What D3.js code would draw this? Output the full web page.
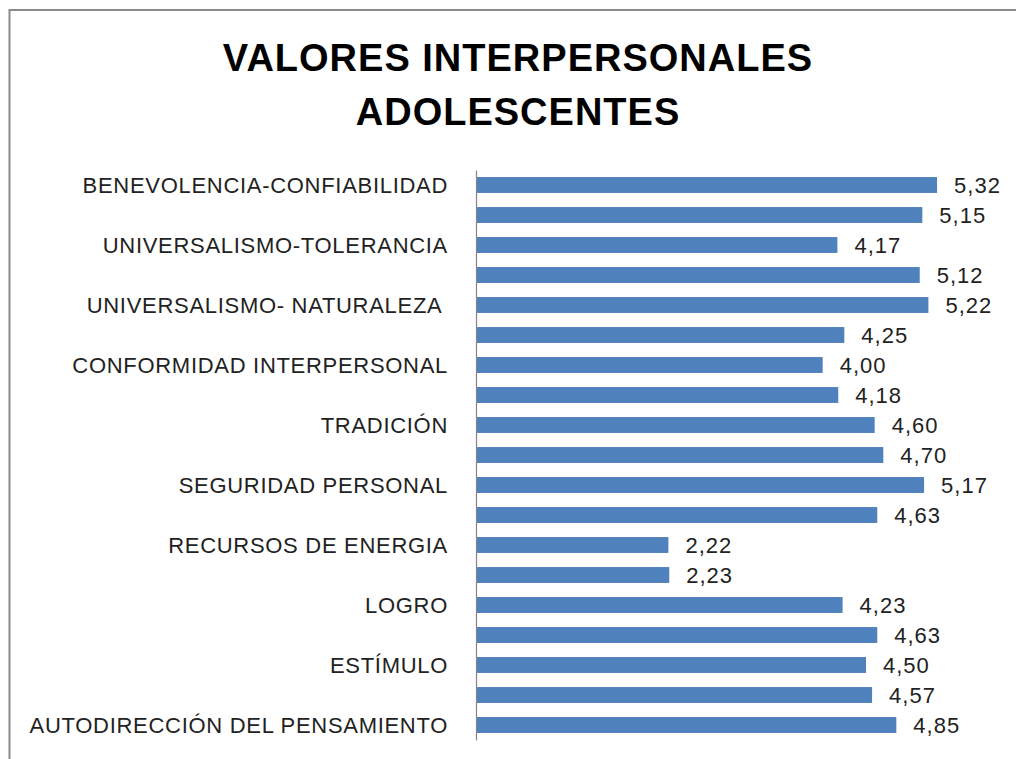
<!DOCTYPE html>
<html>
<head>
<meta charset="utf-8">
<script src="https://cdn.jsdelivr.net/npm/d3@7"></script>
<style>
  html, body { margin: 0; padding: 0; background: #fff; }
  svg { display: block; }
</style>
</head>
<body>
<svg id="chart" width="1016" height="759"></svg>
<script>
// Categories, top to bottom (every other label is hidden in the original chart)
const categories = [
  "BENEVOLENCIA-CONFIABILIDAD",
  "BENEVOLENCIA-CUIDADO",
  "UNIVERSALISMO-TOLERANCIA",
  "UNIVERSALISMO-PREOCUPACIÓN",
  "UNIVERSALISMO- NATURALEZA ",
  "HUMILDAD",
  "CONFORMIDAD INTERPERSONAL",
  "CONFORMIDAD CON LAS NORMAS",
  "TRADICIÓN",
  "SEGURIDAD SOCIAL",
  "SEGURIDAD PERSONAL",
  "IMAGEN PÚBLICA",
  "RECURSOS DE ENERGIA",
  "PODER-DOMINANCIA",
  "LOGRO",
  "HEDONISMO",
  "ESTÍMULO",
  "AUTODIRECCIÓN DE LA ACCIÓN",
  "AUTODIRECCIÓN DEL PENSAMIENTO"
];
const values = [5.32, 5.15, 4.17, 5.12, 5.22, 4.25, 4.00, 4.18, 4.60, 4.70, 5.17, 4.63, 2.22, 2.23, 4.23, 4.63, 4.50, 4.57, 4.85];
const shownLabels = categories.filter((d, i) => i % 2 === 0);
const titleLines = ["VALORES INTERPERSONALES", "ADOLESCENTES"];
const xDomain = [0, 6];

const data = categories.map((c, i) => ({ cat: c, val: values[i] }));
const svg = d3.select("#chart");
const FONT = "'Liberation Sans', Arial, sans-serif";

// Frame
svg.append("rect")
  .attr("x", 9.5).attr("y", 10)
  .attr("width", 1030).attr("height", 780)
  .attr("fill", "#fff")
  .attr("stroke", "#8a8a8a").attr("stroke-width", 2);

// Title
svg.append("g").selectAll("text")
  .data(titleLines)
  .join("text")
  .attr("x", 518)
  .attr("y", (d, i) => 71 + i * 54)
  .attr("text-anchor", "middle")
  .attr("font-family", FONT)
  .attr("font-weight", "bold")
  .attr("font-size", 38)
  .attr("letter-spacing", 1)
  .attr("fill", "#000")
  .text(d => d);

const x = d3.scaleLinear().domain(xDomain).range([476, 996]);
const y = d3.scaleBand().domain(categories).range([170, 740])
  .paddingInner(0.47).paddingOuter(0.235);

// Bars
svg.append("g").selectAll("rect")
  .data(data)
  .join("rect")
  .attr("x", x(0))
  .attr("y", d => y(d.cat))
  .attr("width", d => x(d.val) - x(0))
  .attr("height", y.bandwidth())
  .attr("fill", "#4F81BD");

// Value labels
const fmt = v => d3.format(".2f")(v).replace(".", ",");
svg.append("g").selectAll("text")
  .data(data)
  .join("text")
  .attr("x", d => x(d.val) + 17)
  .attr("y", d => y(d.cat) + y.bandwidth() / 2 + 8)
  .attr("font-family", FONT)
  .attr("font-size", 22)
  .attr("letter-spacing", 1)
  .attr("fill", "#222")
  .text(d => fmt(d.val));

// Category axis
const axis = d3.axisLeft(y)
  .tickValues(shownLabels)
  .tickSize(0)
  .tickSizeOuter(0)
  .tickPadding(28);
const gAxis = svg.append("g")
  .attr("transform", `translate(${x(0)},0)`)
  .call(axis);
gAxis.select(".domain").attr("stroke", "#868686").attr("stroke-width", 1.2);
gAxis.selectAll(".tick text")
  .attr("font-family", FONT)
  .attr("font-size", 22)
  .attr("letter-spacing", 0.7)
  .attr("fill", "#222")
  .attr("dy", null)
  .attr("y", 8)
  .style("white-space", "pre");
</script>
</body>
</html>
